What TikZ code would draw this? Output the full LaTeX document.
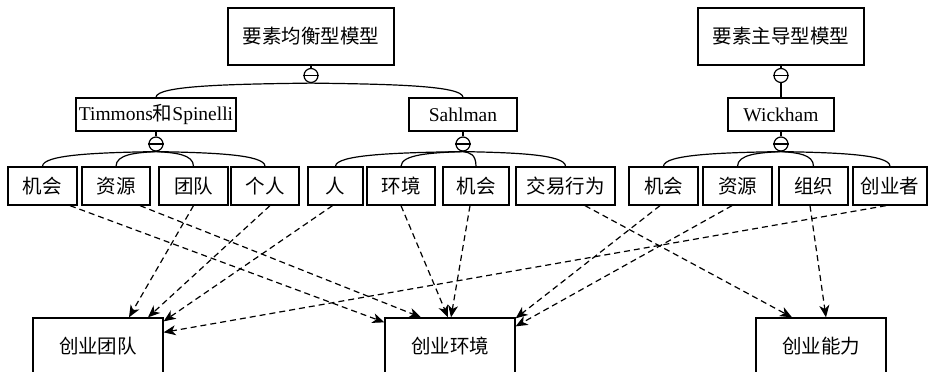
\documentclass[tikz,border=0pt]{standalone}
\usepackage{fontspec}
\setmainfont{Liberation Serif}
\newfontfamily\cjk{Noto Sans CJK SC}
\usetikzlibrary{arrows.meta}
\begin{document}
\begin{tikzpicture}[x=1pt,y=-1pt,
  box/.style={draw,line width=1.3pt,inner sep=0pt,font=\fontsize{19.5}{22}\selectfont},
  big/.style={box,minimum width=166pt,minimum height=57pt},
  mid/.style={box,minimum height=33pt},
  leaf/.style={box,minimum height=38pt},
  goal/.style={box,minimum width=130pt,minimum height=56pt},
  knot/.style={draw,circle,line width=1.2pt,minimum size=14pt,inner sep=0pt},
  link/.style={line width=1.2pt},
  dep/.style={line width=1.2pt,dash pattern=on 6pt off 4pt,-{Stealth[length=12pt,width=10pt,inset=3.5pt]}}]
\useasboundingbox (0,0) rectangle (930,372);
\clip (0,0) rectangle (930,372);
% top level
\node[big] (A) at (311,36.5) {\cjk 要素均衡型模型};
\node[big] (B) at (781,36.5) {\cjk 要素主导型模型};
% second level
\node[mid,minimum width=160pt] (T) at (156,114.5) {Timmons{\cjk 和}Spinelli};
\node[mid,minimum width=108pt] (S) at (463,114.5) {Sahlman};
\node[mid,minimum width=106pt] (W) at (781,114.5) {Wickham};
% knots
\node[knot] (cA) at (311,75.5) {};
\node[knot] (cB) at (781,75.5) {};
\node[knot] (cT) at (156,144) {};
\node[knot] (cS) at (463,144) {};
\node[knot] (cW) at (781,144) {};
\foreach \k in {cA,cB,cT,cS,cW} {\draw[link] (\k.west) -- (\k.east);}
% leaves
\node[leaf,minimum width=69pt] (t1) at (42.5,186) {\cjk 机会};
\node[leaf,minimum width=68pt] (t2) at (116,186) {\cjk 资源};
\node[leaf,minimum width=69pt] (t3) at (193.5,186) {\cjk 团队};
\node[leaf,minimum width=68pt] (t4) at (265,186) {\cjk 个人};
\node[leaf,minimum width=55pt] (s1) at (335.5,186) {\cjk 人};
\node[leaf,minimum width=68pt] (s2) at (401,186) {\cjk 环境};
\node[leaf,minimum width=66pt] (s3) at (476,186) {\cjk 机会};
\node[leaf,minimum width=99pt] (s4) at (565.5,186) {\cjk 交易行为};
\node[leaf,minimum width=69pt] (w1) at (663.5,186) {\cjk 机会};
\node[leaf,minimum width=69pt] (w2) at (737.5,186) {\cjk 资源};
\node[leaf,minimum width=69pt] (w3) at (813.5,186) {\cjk 组织};
\node[leaf,minimum width=74pt] (w4) at (890,186) {\cjk 创业者};
% goals
\node[goal] (P) at (98,346) {\cjk 创业团队};
\node[goal] (Q) at (450,346) {\cjk 创业环境};
\node[goal] (R) at (821,346) {\cjk 创业能力};
% tree links
\draw[link] (A.south) -- (cA.north);
\draw[link] (B.south) -- (cB.north);
\draw[link] (cB.south) -- (W.north);
\draw[link] (T.south) -- (cT.north);
\draw[link] (S.south) -- (cS.north);
\draw[link] (W.south) -- (cW.north);
\draw[link] (cA.south) .. controls +(-77,1) and +(0,-12) .. (T.north);
\draw[link] (cA.south) .. controls +(76,1) and +(0,-12) .. (S.north);
\draw[link] (cT.south) .. controls +(-56,1) and +(0,-12) .. (t1.north);
\draw[link] (cT.south) .. controls +(-20,1) and +(0,-12) .. (t2.north);
\draw[link] (cT.south) .. controls +(19,1) and +(0,-12) .. (t3.north);
\draw[link] (cT.south) .. controls +(55,1) and +(0,-12) .. (t4.north);
\draw[link] (cS.south) .. controls +(-64,1) and +(0,-12) .. (s1.north);
\draw[link] (cS.south) .. controls +(-31,1) and +(0,-12) .. (s2.north);
\draw[link] (cS.south) .. controls +(7,1) and +(0,-12) .. (s3.north);
\draw[link] (cS.south) .. controls +(51,1) and +(0,-12) .. (s4.north);
\draw[link] (cW.south) .. controls +(-59,1) and +(0,-12) .. (w1.north);
\draw[link] (cW.south) .. controls +(-22,1) and +(0,-12) .. (w2.north);
\draw[link] (cW.south) .. controls +(16,1) and +(0,-12) .. (w3.north);
\draw[link] (cW.south) .. controls +(55,1) and +(0,-12) .. (w4.north);
% dependencies
\draw[dep] ([xshift=27.5pt]t1.south) -- ([yshift=-5pt]Q.north west);
\draw[dep] ([xshift=24pt]t2.south) -- ([xshift=-29pt]Q.north);
\draw[dep] (t3.south) -- ([xshift=31pt]P.north);
\draw[dep] ([xshift=5pt]t4.south) -- ([xshift=50pt]P.north);
\draw[dep] ([xshift=-3pt]s1.south) -- ([yshift=-4pt]P.north east);
\draw[dep] (s2.south) -- ([xshift=-2pt]Q.north);
\draw[dep] ([xshift=-6pt]s3.south) -- ([xshift=1pt]Q.north);
\draw[dep] ([xshift=19.5pt]s4.south) -- ([xshift=-29pt]R.north);
\draw[dep] ([xshift=-3.5pt]w1.south) -- ([yshift=-1pt]Q.north east);
\draw[dep] ([xshift=-5.5pt]w2.south) -- ([yshift=-9pt]Q.north east);
\draw[dep] ([xshift=-3.5pt]w3.south) -- ([xshift=5pt]R.north);
\draw[dep] ([xshift=-4pt]w4.south) -- ([yshift=-15pt]P.north east);
\end{tikzpicture}
\end{document}
